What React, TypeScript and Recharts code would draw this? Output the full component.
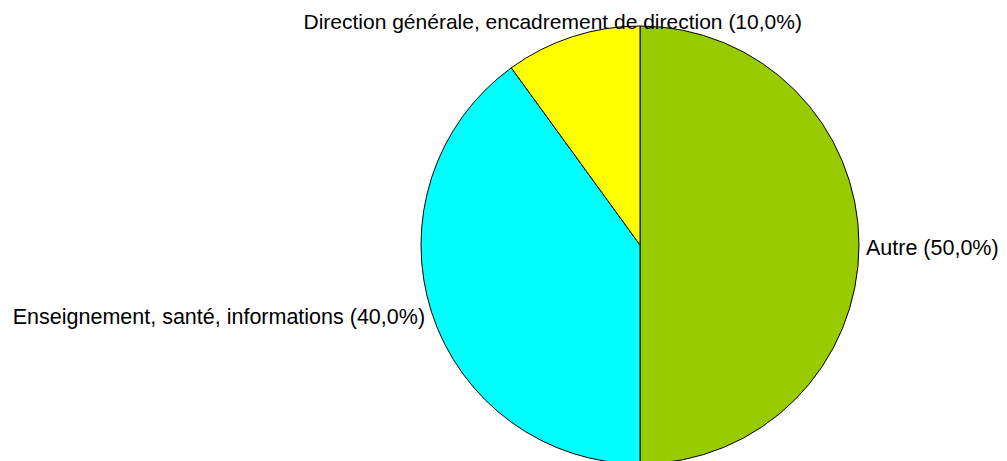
import React from 'react';
import { PieChart, Pie, Cell } from 'recharts';

const categories = [
  'Autre',
  'Enseignement, santé, informations',
  'Direction générale, encadrement de direction',
];
const shares = [50, 40, 10];
const colors = ['#99CC00', '#00FFFF', '#FFFF00'];

const data = categories.map((name, i) => ({ name, value: shares[i] }));

const RADIAN = Math.PI / 180;

const renderLabel = (props: any) => {
  const { cx, cy, midAngle, outerRadius, name, percent } = props;
  const cos = Math.cos(-midAngle * RADIAN);
  const sin = Math.sin(-midAngle * RADIAN);
  const r = outerRadius + 7;
  const text = `${name} (${(percent * 100).toFixed(1).replace('.', ',')}%)`;

  if (Math.abs(cos) < 0.5) {
    // top / bottom labels sit centred above the slice
    const x = cx + r * cos * 1.25;
    const y = cy + r * sin - 1 + (sin < 0 ? 0 : 16);
    return (
      <text x={x} y={y} textAnchor="middle" fill="#000" fontSize={21}>
        {text}
      </text>
    );
  }
  const x = cx + r * cos;
  const y = cy + r * sin + 2;
  return (
    <text
      x={x}
      y={y}
      dy="0.35em"
      textAnchor={cos > 0 ? 'start' : 'end'}
      fill="#000"
      fontSize={21.5}
    >
      {text}
    </text>
  );
};

export default function App() {
  return (
    <div
      style={{
        position: 'fixed',
        left: 0,
        top: 0,
        width: 1007,
        height: 461,
        background: '#fff',
        fontFamily: '"Liberation Sans", Arial, sans-serif',
      }}
    >
      <PieChart width={1007} height={461} margin={{ top: 0, right: 0, bottom: 0, left: 0 }}>
        <Pie
          data={data}
          dataKey="value"
          nameKey="name"
          cx={640}
          cy={245}
          outerRadius={219}
          startAngle={90}
          endAngle={-270}
          stroke="#000"
          strokeWidth={1}
          label={renderLabel}
          labelLine={false}
          isAnimationActive={false}
        >
          {data.map((d, i) => (
            <Cell key={d.name} fill={colors[i]} />
          ))}
        </Pie>
      </PieChart>
    </div>
  );
}
